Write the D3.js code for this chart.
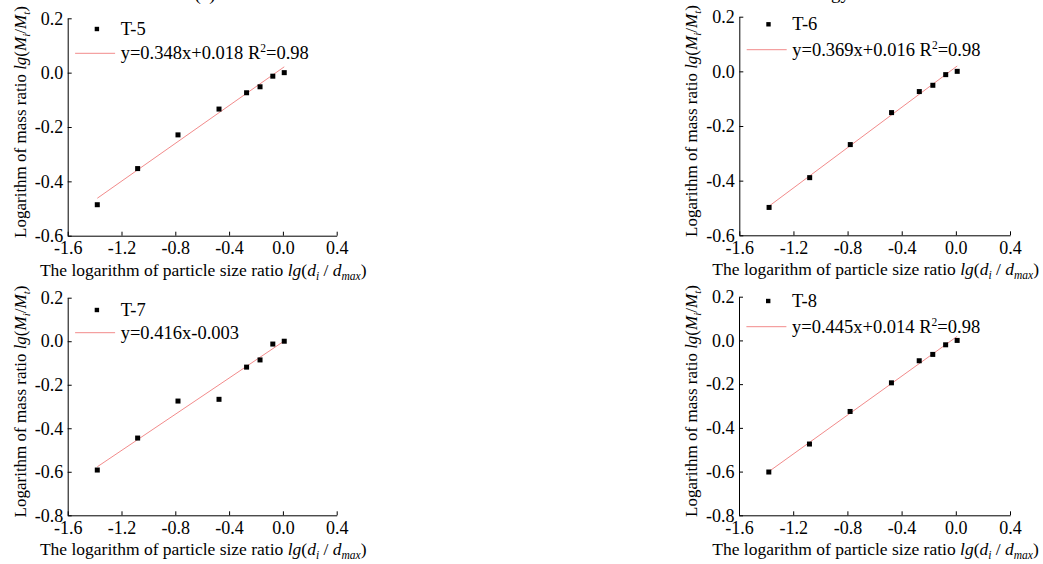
<!DOCTYPE html>
<html lang="en">
<head>
<meta charset="UTF-8">
<title>Particle size fractal fits</title>
<script src="https://cdn.jsdelivr.net/npm/d3@7/dist/d3.min.js"></script>
<style>
  body { margin: 0; background: #fff; }
  svg text { font-family: "Liberation Serif", "Times New Roman", serif; fill: #000; }
  .axis path, .axis line { stroke: #000; stroke-width: 1; }
  .axis text { font-size: 18px; font-family: "Liberation Serif", serif; }
</style>
</head>
<body>
<div id="chart"></div>
<script>
// data
var xVals = [-1.38, -1.08, -0.78, -0.475, -0.27, -0.17, -0.075, 0.01];
var sampleNames = ['T-5', 'T-6', 'T-7', 'T-8'];
var t5 = [-0.486, -0.353, -0.229, -0.134, -0.074, -0.052, -0.013, 0.0];
var t6 = [-0.498, -0.389, -0.268, -0.151, -0.074, -0.051, -0.012, 0.0];
var t7 = [-0.592, -0.445, -0.275, -0.267, -0.119, -0.086, -0.013, 0.0];
var t8 = [-0.602, -0.474, -0.325, -0.194, -0.093, -0.064, -0.020, 0.0];
var slopes = [0.348, 0.369, 0.416, 0.445];
var intercepts = [0.018, 0.016, -0.003, 0.014];
var r2Labels = ['0.98', '0.98', null, '0.98'];
var xTicks = [-1.6, -1.2, -0.8, -0.4, 0.0, 0.4];
var yTicksTop = [-0.6, -0.4, -0.2, 0.0, 0.2];
var yTicksBottom = [-0.8, -0.6, -0.4, -0.2, 0.0, 0.2];

var seriesVals = [t5, t6, t7, t8];
var yTickSets = [yTicksTop, yTicksTop, yTicksBottom, yTicksBottom];

// panel boxes (pixel layout)
var panels = [
  {x0: 67.7,  x1: 336.7, y0: 18.3,  y1: 235.7, leg: [10.7, 35]},
  {x0: 739.3, x1: 1010,  y0: 16.7,  y1: 235.3, leg: [7.6, 33]},
  {x0: 67.7,  x1: 336.7, y0: 297.7, y1: 515.3, leg: [12.3, 35]},
  {x0: 739.0, x1: 1010,  y0: 296.7, y1: 515.3, leg: [4.3, 30]}
];

var width = 1043, height = 564;
var fmt = function(v){ return v.toFixed(1); };

var svg = d3.select('#chart').append('svg')
    .attr('width', width)
    .attr('height', height);

// clipped caption fragments at the top edge
svg.append('text').attr('x', 205).attr('y', 0)
   .attr('text-anchor', 'middle').style('font-size', '19px').text('(a)');
svg.append('text').attr('x', 850).attr('y', -1)
   .attr('text-anchor', 'end').style('font-size', '19px').text('gy');

panels.forEach(function(p, i){
    var vals = seriesVals[i];
    var yTicks = yTickSets[i];

    var xScale = d3.scaleLinear().domain([-1.6, 0.4]).range([p.x0, p.x1]);
    var yScale = d3.scaleLinear().domain(d3.extent(yTicks)).range([p.y1, p.y0]);

    var g = svg.append('g');

    var xAxis = d3.axisBottom(xScale).tickValues(xTicks).tickFormat(fmt)
        .tickSizeInner(-4).tickSizeOuter(0).tickPadding(5.5);
    var yAxis = d3.axisLeft(yScale).tickValues(yTicks).tickFormat(fmt)
        .tickSizeInner(-4).tickSizeOuter(0).tickPadding(4.5);

    g.append('g').attr('class', 'axis')
        .attr('transform', 'translate(0,' + p.y1 + ')')
        .call(xAxis);
    g.append('g').attr('class', 'axis')
        .attr('transform', 'translate(' + p.x0 + ',0)')
        .call(yAxis);

    // x title
    var xt = g.append('text')
        .attr('x', (p.x0 + p.x1) / 2 + 1)
        .attr('y', p.y1 + 40)
        .attr('text-anchor', 'middle')
        .style('font-size', '17.5px');
    xt.append('tspan').text('The logarithm of particle size ratio ');
    xt.append('tspan').style('font-style', 'italic').text('lg');
    xt.append('tspan').text('(');
    xt.append('tspan').style('font-style', 'italic').text('d');
    xt.append('tspan').style('font-style', 'italic').style('font-size', '11.5px').attr('dy', 4).text('i');
    xt.append('tspan').attr('dy', -4).text(' / ');
    xt.append('tspan').style('font-style', 'italic').text('d');
    xt.append('tspan').style('font-style', 'italic').style('font-size', '11.5px').attr('dy', 4).text('max');
    xt.append('tspan').attr('dy', -4).text(')');

    // y title
    var yt = g.append('text')
        .attr('transform', 'translate(' + (p.x0 - 42) + ',' + ((p.y0 + p.y1) / 2 - 5) + ') rotate(-90)')
        .attr('text-anchor', 'middle')
        .style('font-size', '17px');
    yt.append('tspan').text('Logarithm of mass ratio ');
    yt.append('tspan').style('font-style', 'italic').text('lg');
    yt.append('tspan').text('(');
    yt.append('tspan').style('font-style', 'italic').text('M');
    yt.append('tspan').style('font-style', 'italic').style('font-size', '11px').attr('dy', 4).text('i');
    yt.append('tspan').attr('dy', -4).text('/');
    yt.append('tspan').style('font-style', 'italic').text('M');
    yt.append('tspan').style('font-style', 'italic').style('font-size', '11px').attr('dy', 4).text('t');
    yt.append('tspan').attr('dy', -4).text(')');

    // fitted line over the data range
    var xr = d3.extent(xVals);
    var fit = xr.map(function(x){ return [x, slopes[i] * x + intercepts[i]]; });
    g.append('path')
        .datum(fit)
        .attr('fill', 'none')
        .attr('stroke', '#f28b8b')
        .attr('stroke-width', 1)
        .attr('d', d3.line()
            .x(function(d){ return xScale(d[0]); })
            .y(function(d){ return yScale(d[1]); }));

    // points
    var ms = 5;
    g.selectAll('.dot')
        .data(vals)
        .enter()
        .append('rect')
        .attr('class', 'dot')
        .attr('x', function(d, j){ return xScale(xVals[j]) - ms / 2; })
        .attr('y', function(d){ return yScale(d) - ms / 2; })
        .attr('width', ms)
        .attr('height', ms)
        .attr('fill', '#000');

    // legend
    var ly1 = p.y0 + p.leg[0], ly2 = p.y0 + p.leg[1];
    g.append('rect')
        .attr('x', p.x0 + 27).attr('y', ly1 - 2.2)
        .attr('width', 4.4).attr('height', 4.4).attr('fill', '#000');
    g.append('text')
        .attr('x', p.x0 + 53).attr('y', ly1 + 6)
        .style('font-size', '18.5px')
        .text(sampleNames[i]);
    g.append('line')
        .attr('x1', p.x0 + 7.4).attr('x2', p.x0 + 47.4)
        .attr('y1', ly2).attr('y2', ly2)
        .attr('stroke', '#f28b8b').attr('stroke-width', 1);
    var sign = intercepts[i] < 0 ? '-' : '+';
    var eq = g.append('text')
        .attr('x', p.x0 + 53).attr('y', ly2 + 6)
        .style('font-size', '18.5px');
    eq.append('tspan').text('y=' + slopes[i].toFixed(3) + 'x' + sign + Math.abs(intercepts[i]).toFixed(3));
    if (r2Labels[i]) {
        eq.append('tspan').text(' R');
        eq.append('tspan').attr('dy', -7).style('font-size', '11.5px').text('2');
        eq.append('tspan').attr('dy', 7).text('=' + r2Labels[i]);
    }
});
</script>
</body>
</html>
